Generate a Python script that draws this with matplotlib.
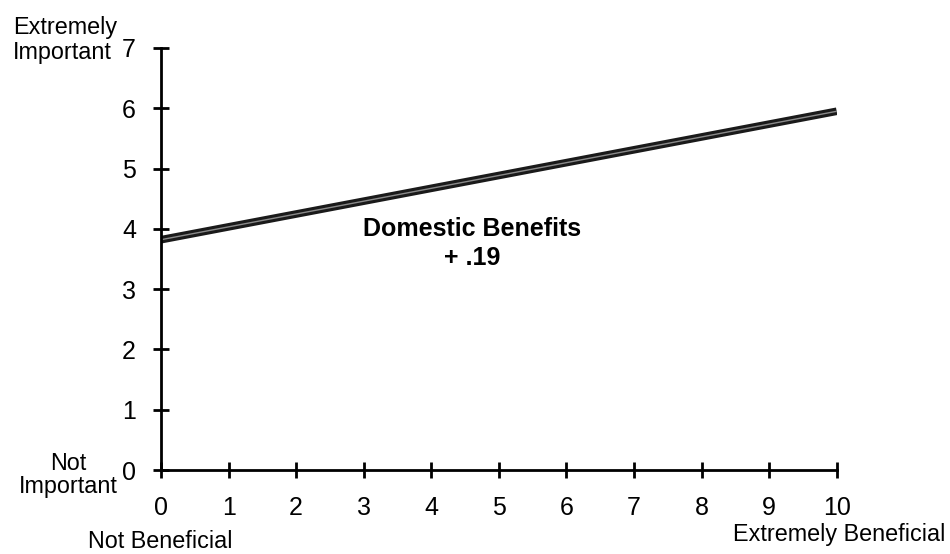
import matplotlib
matplotlib.use("Agg")
import matplotlib.pyplot as plt

plt.rcParams['font.family'] = ['Liberation Sans', 'DejaVu Sans']

# data
x_vals = [0, 10]
y_vals = [3.82, 5.95]
x_ticks = list(range(0, 11))
y_ticks = list(range(0, 8))
series_name = "Domestic Benefits"
slope_label = "+ .19"

fig = plt.figure(figsize=(9.5, 5.54), dpi=100)
ax = fig.add_axes([0.1695, 0.1516, 0.7112, 0.7618])

# thick dark line with a faint lighter core, like the scan
ax.plot(x_vals, y_vals, color='#1a1a1a', lw=5.5, solid_capstyle='butt')
ax.plot(x_vals, y_vals, color='#8a8a8a', lw=1.0, solid_capstyle='butt')

ax.text(4.6, 3.76, series_name + "\n" + slope_label, ha='center', va='center',
        fontsize=18, fontweight='bold', multialignment='center', linespacing=1.25)

ax.set_xlim(0, 10)
ax.set_ylim(0, 7)
ax.set_xticks(x_ticks)
ax.set_yticks(y_ticks)

for s in ['top', 'right']:
    ax.spines[s].set_visible(False)
for s in ['left', 'bottom']:
    ax.spines[s].set_linewidth(2)

ax.tick_params(axis='both', direction='inout', length=12, width=2, labelsize=18)
ax.tick_params(axis='y', pad=12)
ax.tick_params(axis='x', pad=13)

# axis end labels
fig.text(13 / 950, 1 - 40 / 554, "Extremely\nImportant", ha='left', va='center',
         fontsize=16.8, linespacing=1.15)
fig.text(68 / 950, 1 - 475 / 554, "Not\nImportant", ha='center', va='center',
         fontsize=16.8, linespacing=1.0)
fig.text(160 / 950, 1 - 541 / 554, "Not Beneficial", ha='center', va='center',
         fontsize=16.8)
fig.text(945 / 950, 1 - 535 / 554, "Extremely Beneficial", ha='right', va='center',
         fontsize=16.8)

fig.savefig("out.png", dpi=100)
